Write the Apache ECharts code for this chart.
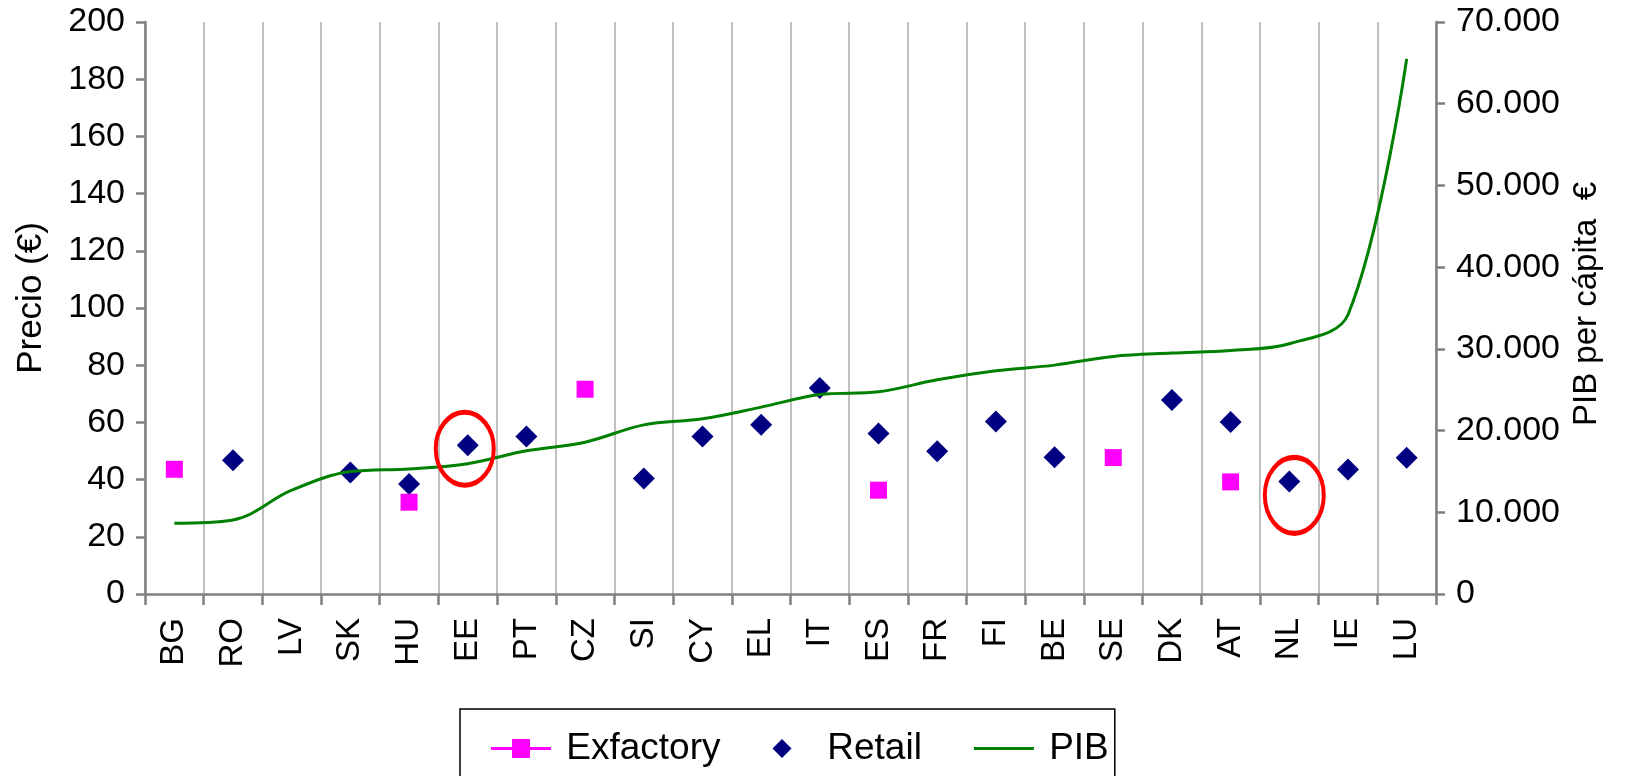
<!DOCTYPE html>
<html>
<head>
<meta charset="utf-8">
<script src="https://cdn.jsdelivr.net/npm/echarts@6/dist/echarts.min.js"></script>
<style>
  html, body { margin: 0; padding: 0; background: #fff; }
  #chart { width: 1627px; height: 776px; }
</style>
</head>
<body>
<div id="chart"></div>
<script>
var countries = ['BG', 'RO', 'LV', 'SK', 'HU', 'EE', 'PT', 'CZ', 'SI', 'CY', 'EL',
                 'IT', 'ES', 'FR', 'FI', 'BE', 'SE', 'DK', 'AT', 'NL', 'IE', 'LU'];
var exfactory = [43.6, null, null, null, 32.1, null, null, 71.6, null, null, null,
                 null, 36.3, null, null, null, 47.7, null, 39.2, null, null, null];
var retail = [null, 46.8, null, 42.5, 38.5, 52.0, 55.1, null, 40.4, 55.1, 59.2,
              72.0, 56.1, 49.9, 60.3, 47.8, null, 67.8, 60.1, 39.3, 43.5, 47.6];
var pib = [8660, 9060, 12700, 14980, 15310, 15950, 17520, 18580, 20700, 21440, 22870,
           24410, 24740, 26210, 27310, 28010, 29070, 29480, 29800, 30620, 34170, 65490];
// red circles drawn round two retail points
var highlighted = [['EE', 50.8], ['NL', 34.5]];

var font = 'Liberation Sans, Arial, sans-serif';
var axisGray = '#808080';

function thousands(v) {
    return String(v).replace(/\B(?=(\d{3})+(?!\d))/g, '.');
}

var chart = echarts.init(document.getElementById('chart'));
var option = {
    backgroundColor: '#fff',
    animation: false,
    grid: { left: 145, right: 191, top: 22, bottom: 182 },
    legend: {
        data: [
            { name: 'Exfactory', icon: 'path://M0,8H21V0H39V8H60V11H39V19H21V11H0Z' },
            { name: 'Retail', icon: 'path://M0,-10L10,0L0,10L-10,0Z' },
            { name: 'PIB', icon: 'path://M0,0H60V3H0Z' }
        ],
        left: 460,
        top: 709,
        orient: 'horizontal',
        padding: [21, 6, 40, 31],
        itemWidth: 60,
        itemHeight: 19,
        itemGap: 52,
        symbolKeepAspect: true,
        borderColor: '#000',
        borderWidth: 1.5,
        borderRadius: 0,
        formatter: function (name) { return ' ' + name; },
        textStyle: { fontFamily: font, fontSize: 37, color: '#000' }
    },
    xAxis: {
        type: 'category',
        data: countries,
        boundaryGap: true,
        axisLine: { lineStyle: { color: axisGray, width: 2.5 } },
        axisTick: { show: true, interval: 0, length: 11, lineStyle: { color: axisGray, width: 2.5 } },
        axisLabel: { interval: 0, rotate: 90, margin: 24, fontFamily: font, fontSize: 33, color: '#000' },
        splitLine: { show: true, interval: 0, lineStyle: { color: '#c0c0c0', width: 2 } }
    },
    yAxis: [
        {
            type: 'value',
            min: 0, max: 200, interval: 20,
            name: 'Precio (€)',
            nameLocation: 'middle',
            nameRotate: 90,
            nameGap: 96,
            nameTextStyle: { fontFamily: font, fontSize: 35, color: '#000', padding: [0, 0, 0, 20] },
            axisLine: { show: true, lineStyle: { color: axisGray, width: 2.5 } },
            axisTick: { show: true, length: 9, lineStyle: { color: axisGray, width: 2.5 } },
            axisLabel: { margin: 20, fontFamily: font, fontSize: 34, color: '#000' },
            splitLine: { show: false }
        },
        {
            type: 'value',
            min: 0, max: 70000, interval: 10000,
            position: 'right',
            name: 'PIB per cápita  €',
            nameLocation: 'middle',
            nameRotate: 90,
            nameGap: 130,
            nameTextStyle: { fontFamily: font, fontSize: 33, color: '#000', padding: [0, 0, 0, 8] },
            axisLine: { show: true, lineStyle: { color: axisGray, width: 2.5 } },
            axisTick: { show: true, length: 9, lineStyle: { color: axisGray, width: 2.5 } },
            axisLabel: { margin: 20, fontFamily: font, fontSize: 34, color: '#000', formatter: thousands },
            splitLine: { show: false }
        }
    ],
    series: [
        {
            name: 'Exfactory',
            type: 'line',
            data: exfactory,
            symbol: 'rect',
            symbolSize: 17,
            showSymbol: true,
            showAllSymbol: true,
            connectNulls: false,
            itemStyle: { color: '#ff00ff', opacity: 1 },
            lineStyle: { color: '#ff00ff', width: 3 }
        },
        {
            name: 'Retail',
            type: 'scatter',
            data: retail,
            symbol: 'diamond',
            symbolSize: 22,
            itemStyle: { color: '#000080', opacity: 1 }
        },
        {
            name: 'PIB',
            type: 'line',
            yAxisIndex: 1,
            data: pib,
            smooth: 0.35,
            symbol: 'none',
            itemStyle: { color: '#008000' },
            lineStyle: { color: '#008000', width: 3 }
        },
        {
            name: 'marca',
            type: 'scatter',
            data: [
                { value: highlighted[0], symbolSize: [58, 73], symbolOffset: [-3, 0] },
                { value: highlighted[1], symbolSize: [59, 76], symbolOffset: [5, 0] }
            ],
            symbol: 'circle',
            z: 5,
            itemStyle: { color: 'rgba(0,0,0,0)', borderColor: '#ff0000', borderWidth: 4.5, opacity: 1 }
        }
    ]
};
chart.setOption(option);
</script>
</body>
</html>
